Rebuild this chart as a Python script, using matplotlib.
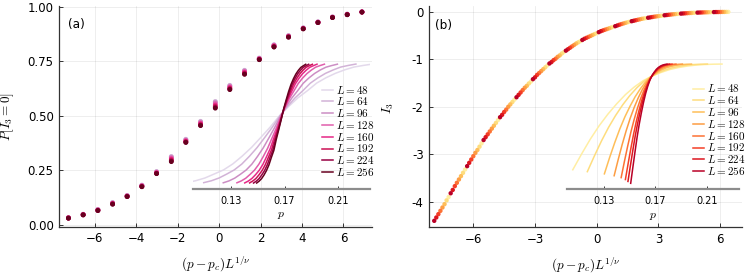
import matplotlib
matplotlib.use("Agg")
import matplotlib.pyplot as plt
import numpy as np

plt.rcParams['mathtext.fontset'] = 'cm'
plt.rcParams['font.family'] = 'DejaVu Sans'

sizes = [48, 64, 96, 128, 160, 192, 224, 256]

# ---- panel (a): P[I3 = 0] collapse, same scaling variable for every L ----
x_a = [-7.26, -6.55, -5.84, -5.13, -4.43, -3.72, -3.01, -2.30, -1.60, -0.89, -0.18,
       0.52, 1.23, 1.94, 2.65, 3.35, 4.06, 4.77, 5.47, 6.18, 6.89]
P_a = {
    48:  [0.034, 0.049, 0.071, 0.103, 0.135, 0.183, 0.245, 0.314, 0.393, 0.475, 0.566,
          0.640, 0.709, 0.765, 0.826, 0.868, 0.903, 0.931, 0.953, 0.966, 0.977],
    64:  [0.034, 0.049, 0.071, 0.102, 0.135, 0.182, 0.244, 0.313, 0.392, 0.474, 0.565,
          0.639, 0.708, 0.764, 0.825, 0.867, 0.903, 0.930, 0.953, 0.966, 0.977],
    96:  [0.033, 0.048, 0.070, 0.101, 0.134, 0.181, 0.243, 0.311, 0.390, 0.472, 0.562,
          0.637, 0.706, 0.763, 0.824, 0.866, 0.902, 0.930, 0.952, 0.965, 0.976],
    128: [0.033, 0.048, 0.069, 0.100, 0.133, 0.180, 0.241, 0.307, 0.387, 0.468, 0.556,
          0.633, 0.703, 0.762, 0.822, 0.865, 0.901, 0.929, 0.952, 0.965, 0.976],
    160: [0.032, 0.047, 0.068, 0.098, 0.132, 0.178, 0.239, 0.302, 0.384, 0.464, 0.549,
          0.629, 0.699, 0.760, 0.820, 0.863, 0.900, 0.928, 0.951, 0.964, 0.976],
    192: [0.032, 0.047, 0.067, 0.097, 0.131, 0.177, 0.237, 0.297, 0.381, 0.460, 0.543,
          0.625, 0.695, 0.759, 0.818, 0.862, 0.899, 0.928, 0.951, 0.964, 0.975],
    224: [0.031, 0.046, 0.066, 0.096, 0.130, 0.176, 0.236, 0.293, 0.379, 0.457, 0.538,
          0.622, 0.692, 0.758, 0.816, 0.861, 0.899, 0.927, 0.950, 0.963, 0.975],
    256: [0.031, 0.046, 0.066, 0.095, 0.130, 0.175, 0.235, 0.290, 0.378, 0.455, 0.535,
          0.620, 0.690, 0.757, 0.815, 0.860, 0.898, 0.927, 0.950, 0.963, 0.975],
}
pc_a = 0.168
# spread in p per unit of the scaling variable
width_a = [0.0098, 0.0080, 0.0060, 0.0046, 0.0038, 0.0033, 0.0029, 0.00258]

# ---- panel (b): I3 collapse ----
x_b = {
    48:  [-7.2, -6.4, -5.6, -4.8, -4.0, -3.2, -2.4, -1.6, -0.8, 0.0, 0.8, 1.6, 2.4, 3.2, 4.0, 4.8, 5.6, 6.4],
    64:  [-7.3, -6.5, -5.7, -4.9, -4.1, -3.3, -2.5, -1.7, -0.9, -0.1, 0.7, 1.5, 2.3, 3.1, 3.9, 4.7, 5.5, 6.3],
    96:  [-7.4, -6.6, -5.8, -5.0, -4.2, -3.4, -2.6, -1.8, -1.0, -0.2, 0.6, 1.4, 2.2, 3.0, 3.8, 4.6, 5.4, 6.2],
    128: [-7.5, -6.7, -5.9, -5.1, -4.3, -3.5, -2.7, -1.9, -1.1, -0.3, 0.5, 1.3, 2.1, 2.9, 3.7, 4.5, 5.3, 6.1],
    160: [-7.6, -6.8, -6.0, -5.2, -4.4, -3.6, -2.8, -2.0, -1.2, -0.4, 0.4, 1.2, 2.0, 2.8, 3.6, 4.4, 5.2, 6.0],
    192: [-7.7, -6.9, -6.1, -5.3, -4.5, -3.7, -2.9, -2.1, -1.3, -0.5, 0.3, 1.1, 1.9, 2.7, 3.5, 4.3, 5.1, 5.9],
    224: [-7.8, -7.0, -6.2, -5.4, -4.6, -3.8, -3.0, -2.2, -1.4, -0.6, 0.2, 1.0, 1.8, 2.6, 3.4, 4.2, 5.0, 5.8],
    256: [-7.9, -7.1, -6.3, -5.5, -4.7, -3.9, -3.1, -2.3, -1.5, -0.7, 0.1, 0.9, 1.7, 2.5, 3.3, 4.1, 4.9, 5.7],
}
I3_b = {
    48:  [-3.90, -3.32, -2.77, -2.28, -1.85, -1.47, -1.13, -0.85, -0.62, -0.45, -0.32, -0.21,
          -0.135, -0.081, -0.043, -0.021, -0.009, -0.004],
    64:  [-3.97, -3.39, -2.84, -2.34, -1.90, -1.51, -1.17, -0.88, -0.645, -0.47, -0.335, -0.222,
          -0.142, -0.087, -0.047, -0.023, -0.010, -0.004],
    96:  [-4.05, -3.46, -2.91, -2.40, -1.95, -1.56, -1.21, -0.92, -0.67, -0.49, -0.35, -0.235,
          -0.15, -0.093, -0.051, -0.026, -0.012, -0.005],
    128: [-4.12, -3.53, -2.97, -2.46, -2.00, -1.60, -1.25, -0.95, -0.70, -0.51, -0.365, -0.248,
          -0.16, -0.099, -0.055, -0.028, -0.013, -0.005],
    160: [-4.19, -3.60, -3.04, -2.52, -2.06, -1.65, -1.29, -0.99, -0.73, -0.53, -0.38, -0.26,
          -0.17, -0.105, -0.060, -0.031, -0.014, -0.006],
    192: [-4.26, -3.67, -3.11, -2.58, -2.11, -1.70, -1.33, -1.02, -0.76, -0.55, -0.395, -0.275,
          -0.18, -0.112, -0.065, -0.034, -0.016, -0.007],
    224: [-4.33, -3.75, -3.18, -2.64, -2.17, -1.75, -1.38, -1.06, -0.79, -0.57, -0.41, -0.29,
          -0.19, -0.12, -0.070, -0.037, -0.017, -0.007],
    256: [-4.40, -3.82, -3.25, -2.70, -2.22, -1.80, -1.42, -1.09, -0.82, -0.595, -0.43, -0.305,
          -0.20, -0.127, -0.075, -0.040, -0.019, -0.008],
}
pc_b = 0.1672
width_b = [0.00855, 0.00688, 0.00499, 0.00391, 0.00314, 0.00267, 0.00238, 0.00208]

colors_a = plt.get_cmap('PuRd')(np.linspace(0.15, 1.0, len(sizes)))
colors_b = plt.get_cmap('YlOrRd')(np.linspace(0.12, 0.88, len(sizes)))

W, H = 747, 274
fig = plt.figure(figsize=(W / 100, H / 100), dpi=100)


def px_box(left, right, top, bottom):
    # axes rectangle from pixel edges
    return [left / W, 1 - bottom / H, (right - left) / W, (bottom - top) / H]


ax_a = fig.add_axes(px_box(59.3, 371.7, 6, 226.7))
ax_b = fig.add_axes(px_box(429.3, 741.7, 6, 227))
in_a = fig.add_axes(px_box(192.7, 370, 55, 188.7))
in_b = fig.add_axes(px_box(566.7, 739.3, 55, 189.3))


def style_main(ax):
    for s in ['top', 'right']:
        ax.spines[s].set_visible(False)
    for s in ['left', 'bottom']:
        ax.spines[s].set_color('#333333')
        ax.spines[s].set_linewidth(0.9)
    ax.grid(True, color='black', alpha=0.08, linewidth=0.6)
    ax.set_axisbelow(True)
    ax.tick_params(direction='in', length=3, width=0.7, color='#333333',
                   labelsize=8.5, labelcolor='black', pad=4)


def style_inset(ax, xlim):
    ax.patch.set_alpha(0)
    for s in ['top', 'right', 'left']:
        ax.spines[s].set_visible(False)
    ax.spines['bottom'].set_color('#8c8c8c')
    ax.spines['bottom'].set_linewidth(1.6)
    ax.set_yticks([])
    ax.set_xlim(xlim)
    ax.set_xticks([0.13, 0.17, 0.21])
    ax.set_xticklabels(['0.13', '0.17', '0.21'])
    ax.tick_params(axis='x', direction='in', length=2.5, width=0.7, color='#333333',
                   labelsize=7, pad=5)
    ax.set_xlabel('$p$', fontsize=8.5, labelpad=2)


# panel (a)
style_main(ax_a)
for L, c, w in zip(sizes, colors_a, width_a):
    ax_a.scatter(x_a, P_a[L], s=12, color=c, edgecolors='none', zorder=3)
    in_a.plot(pc_a + np.array(x_a) * w, P_a[L], color=c, lw=1.1, label=f'$L = {L}$')
ax_a.set_xlim(-7.70, 7.36)
ax_a.set_ylim(-0.008, 1.003)
ax_a.set_xticks([-6, -4, -2, 0, 2, 4, 6])
ax_a.set_yticks([0, 0.25, 0.5, 0.75, 1.0])
ax_a.set_yticklabels(['0.00', '0.25', '0.50', '0.75', '1.00'])
ax_a.set_xlabel(r'$(p - p_c)L^{1/\nu}$', fontsize=9.5)
ax_a.xaxis.set_label_coords(0.5, -0.128)
ax_a.set_ylabel(r'$P[I_3 = 0]$', fontsize=9.5)
ax_a.yaxis.set_label_coords(-0.138, 0.5)
ax_a.text(0.028, 0.914, '(a)', transform=ax_a.transAxes, fontsize=8.7, va='center')

style_inset(in_a, (0.1017, 0.2336))
in_a.set_ylim(-0.014, 1.049)
in_a.legend(loc='upper left', bbox_to_anchor=(321.7 / W, 1 - 83.5 / H),
            bbox_transform=fig.transFigure, frameon=False, fontsize=8,
            handlelength=1.05, handletextpad=0.2, labelspacing=-0.02,
            borderpad=0, borderaxespad=0)

# panel (b)
style_main(ax_b)
for L, c, w in zip(sizes, colors_b, width_b):
    ax_b.scatter(x_b[L], I3_b[L], s=10, color=c, edgecolors='none', zorder=3)
    in_b.plot(pc_b + np.array(x_b[L]) * w, I3_b[L], color=c, lw=1.1, label=f'$L = {L}$')
ax_b.set_xlim(-8.14, 7.05)
ax_b.set_ylim(-4.53, 0.12)
ax_b.set_xticks([-6, -3, 0, 3, 6])
ax_b.set_yticks([-4, -3, -2, -1, 0])
ax_b.set_yticklabels(['-4', '-3', '-2', '-1', '0'])
ax_b.set_xlabel(r'$(p - p_c)L^{1/\nu}$', fontsize=9.5)
ax_b.xaxis.set_label_coords(0.5, -0.128)
ax_b.set_ylabel(r'$I_3$', fontsize=9.5)
ax_b.yaxis.set_label_coords(-0.108, 0.54)
ax_b.text(0.018, 0.914, '(b)', transform=ax_b.transAxes, fontsize=8.7, va='center')

style_inset(in_b, (0.1009, 0.2354))
in_b.set_ylim(-4.62, 0.33)
in_b.legend(loc='upper left', bbox_to_anchor=(692.7 / W, 1 - 82.5 / H),
            bbox_transform=fig.transFigure, frameon=False, fontsize=8,
            handlelength=1.05, handletextpad=0.2, labelspacing=-0.02,
            borderpad=0, borderaxespad=0)

fig.savefig('out.png', dpi=100)
